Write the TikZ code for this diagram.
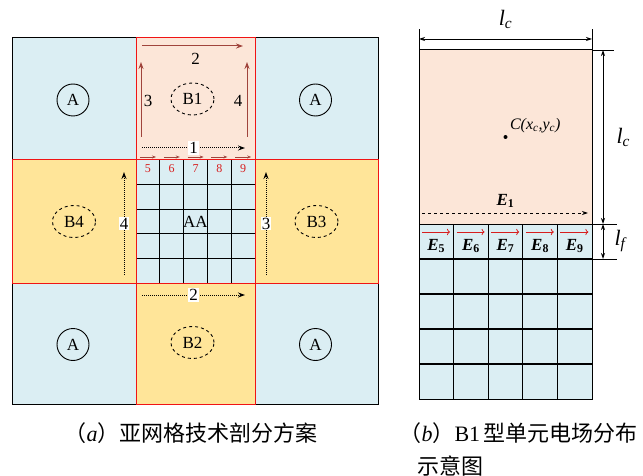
\documentclass[tikz,border=0pt]{standalone}
\usepackage{fontspec}
\setmainfont{Liberation Serif}
\newfontfamily\cjkfont{Noto Sans CJK SC}
\usetikzlibrary{positioning,arrows.meta,calc,shapes.geometric}
\definecolor{CellBlue}{RGB}{219,238,243}
\definecolor{CellPink}{RGB}{252,230,216}
\definecolor{CellYellow}{RGB}{255,229,153}
\definecolor{EdgeRed}{RGB}{240,20,20}
\definecolor{ArrowBrown}{RGB}{160,68,60}
\definecolor{FieldRed}{RGB}{215,30,30}
\newcommand{\tagsize}{\fontsize{17}{19}\selectfont}
\tikzset{
  acell/.style={draw=black,fill=CellBlue,line width=1pt,inner sep=0pt,outer sep=0pt},
  pinkcell/.style={draw=EdgeRed,fill=CellPink,line width=1pt,inner sep=0pt,outer sep=0pt},
  yellowcell/.style={draw=EdgeRed,fill=CellYellow,line width=1pt,inner sep=0pt,outer sep=0pt},
  redline/.style={draw=EdgeRed,line width=1pt},
  meshline/.style={draw=black,line width=1.1pt},
  ring/.style={circle,draw=black,line width=0.9pt,minimum size=32pt,inner sep=0pt,font=\tagsize},
  zone/.style={ellipse,draw=black,dashed,line width=0.9pt,minimum width=43pt,
    minimum height=32pt,inner sep=0pt,font=\tagsize},
  sideflow/.style={-{Stealth[length=7pt,width=5pt]},line width=1pt,draw=ArrowBrown},
  tinyflow/.style={-{Stealth[length=4pt,width=3pt]},line width=0.8pt,draw=ArrowBrown},
  dotflow/.style={-{Stealth[length=7pt,width=5pt]},densely dotted,line width=1pt},
  numtag/.style={font=\tagsize,fill=white,inner sep=1pt},
  plaintag/.style={font=\tagsize,inner sep=0pt},
  redtag/.style={font=\fontsize{12}{14}\selectfont,text=FieldRed},
  dimline/.style={line width=0.9pt},
  dimflow/.style={{Stealth[length=6pt,width=4pt]}-{Stealth[length=6pt,width=4pt]},line width=0.9pt},
  fieldflow/.style={-{To[length=3pt]},draw=FieldRed,line width=0.8pt},
  efield/.style={font=\fontsize{17}{19}\selectfont\bfseries\itshape},
  lsize/.style={font=\fontsize{22}{24}\selectfont}
}

\begin{document}
\begin{tikzpicture}[x=1pt,y=-1pt,node distance=0pt]
  \useasboundingbox (0,0) rectangle (643,476);
  % sub-grid partition (a)
  \node[acell,minimum width=124pt,minimum height=122pt] (a1) at (74,99) {};
  \node[pinkcell,right=of a1,minimum width=119pt,minimum height=122pt] (b1) {};
  \node[acell,right=of b1,minimum width=123pt,minimum height=122pt] (a2) {};
  \node[yellowcell,below=of a1,minimum width=124pt,minimum height=123pt] (b4) {};
  \node[acell,right=of b4,minimum width=119pt,minimum height=123pt] (aa) {};
  \node[yellowcell,right=of aa,minimum width=123pt,minimum height=123pt] (b3) {};
  \node[acell,below=of b4,minimum width=124pt,minimum height=121pt] (a3) {};
  \node[yellowcell,right=of a3,minimum width=119pt,minimum height=121pt] (b2) {};
  \node[acell,right=of b2,minimum width=123pt,minimum height=121pt] (a4) {};
  \foreach \k in {1,...,4} {
    \draw[meshline] ($(aa.north west)!\k/5!(aa.north east)$) -- ($(aa.south west)!\k/5!(aa.south east)$);
    \draw[meshline] ($(aa.north west)!\k/5!(aa.south west)$) -- ($(aa.north east)!\k/5!(aa.south east)$);
  }
  \foreach \c in {b1,b2,b3,b4,aa}
    \draw[redline] (\c.south west) rectangle (\c.north east);
  \node[plaintag] at (aa.center) {AA};
  \foreach \n [count=\k from 0] in {5,...,9} {
    \node[redtag] at ($(aa.north west)!{(\k+0.5)/5}!(aa.north east)+(0,9)$) {\n};
    \draw[tinyflow] ($(aa.north west)+(\k*23.8+4,-3)$) -- ++(16,0);
  }
  \foreach \c in {a1,a2,a3,a4}
    \node[ring] at ([shift={(-1,1)}]\c.center) {A};
  % B1
  \node[zone] (z1) at ([shift={(-3,0)}]b1.center) {B1};
  \draw[sideflow] ([shift={(6,8)}]b1.north west) -- ([shift={(-12,8)}]b1.north east);
  \node[plaintag] at ([shift={(0,21)}]b1.north) {2};
  \draw[sideflow] ([shift={(5,-23)}]b1.south west) -- ([shift={(5,24)}]b1.north west);
  \draw[sideflow] ([shift={(-8,-23)}]b1.south east) -- ([shift={(-8,24)}]b1.north east);
  \node[plaintag] at ([shift={(12,63)}]b1.north west) {3};
  \node[plaintag] at ([shift={(-17,63)}]b1.north east) {4};
  \draw[dotflow] ([shift={(6,-12)}]b1.south west) -- ([shift={(-10,-12)}]b1.south east)
    node[numtag,midway] {1};
  % B2, B3, B4
  \node[zone] (z2) at ([shift={(-3,-1)}]b2.center) {B2};
  \draw[dotflow] ([shift={(6,12)}]b2.north west) -- ([shift={(-10,12)}]b2.north east)
    node[numtag,midway] {2};
  \node[zone] (z3) at (b3.center) {B3};
  \draw[dotflow] ([shift={(11,-8)}]b3.south west) -- ([shift={(11,12)}]b3.north west)
    node[numtag,midway] {3};
  \node[zone] (z4) at (b4.center) {B4};
  \draw[dotflow] ([shift={(-12,-8)}]b4.south east) -- ([shift={(-12,12)}]b4.north east)
    node[numtag,midway] {4};

  % B1 cell field (b)
  \node[draw=black,fill=CellPink,line width=1pt,minimum width=173pt,minimum height=174pt,
    inner sep=0pt,outer sep=0pt] (cellb) at (505.5,137) {};
  \node[acell,below=of cellb,minimum width=173pt,minimum height=175pt] (mesh) {};
  \foreach \k in {1,...,4} {
    \draw[meshline] ($(mesh.north west)!\k/5!(mesh.north east)$) -- ($(mesh.south west)!\k/5!(mesh.south east)$);
    \draw[meshline] ($(mesh.north west)!\k/5!(mesh.south west)$) -- ($(mesh.north east)!\k/5!(mesh.south east)$);
  }
  \foreach \n [count=\k from 0] in {5,...,9} {
    \draw[fieldflow] ($(mesh.north west)+(\k*34.6+3,8)$) -- ++(28,0);
    \node[efield] at ($(mesh.north west)+(\k*34.6+17.3,22)$) {E\textsubscript{\upshape\n}};
  }
  \fill (cellb.center) circle (2);
  \node[anchor=south west,font=\fontsize{16}{18}\selectfont\itshape] at ([shift={(1,-1)}]cellb.center)
    {C(x\textsubscript{c},y\textsubscript{c})};
  \draw[-{Stealth[length=6pt,width=4pt]},dashed,line width=0.9pt]
    ([shift={(3,-11)}]cellb.south west) -- ([shift={(-4,-11)}]cellb.south east);
  \node[efield] at ([shift={(0,-23)}]cellb.south) {E\textsubscript{\upshape 1}};
  % dimensions
  \coordinate (topl) at ([shift={(0,-11)}]cellb.north west);
  \coordinate (topr) at ([shift={(0,-11)}]cellb.north east);
  \draw[dimline] (cellb.north west) -- ++(0,-21);
  \draw[dimline] (cellb.north east) -- ++(0,-21);
  \draw[dimflow] (topl) -- (topr);
  \node[lsize] at ([shift={(0,-31)}]cellb.north) {\textit{l}\textsubscript{\textit{c}}};
  \coordinate (rgt1) at ([shift={(11,0)}]cellb.north east);
  \coordinate (rgt2) at ([shift={(11,0)}]cellb.south east);
  \coordinate (rgt3) at ([shift={(11,35)}]mesh.north east);
  \draw[dimline] (cellb.north east) -- ++(22,0);
  \draw[dimline] (cellb.south east) -- ++(25,0);
  \draw[dimline] ([shift={(0,35)}]mesh.north east) -- ++(25,0);
  \draw[dimflow] (rgt1) -- (rgt2);
  \draw[dimflow] (rgt2) -- (rgt3);
  \node[lsize,anchor=west] at ([shift={(10,0)}]rgt1 |- cellb.east) {\textit{l}\textsubscript{\textit{c}}};
  \node[lsize,anchor=west] at ([shift={(8,17)}]rgt2) {\textit{l}\textsubscript{\textit{f}}};

  % captions
  \node[font=\fontsize{22}{33}\selectfont] (capa) at (191,433)
    {{\cjkfont （}\textit{a}{\cjkfont ）亚网格技术剖分方案}};
  \node[font=\fontsize{22}{33}\selectfont,anchor=west,align=left] (capb) at (396,449)
    {{\cjkfont （}\textit{b}{\cjkfont ）}B1\,{\cjkfont 型单元电场分布}\\
     \hspace*{0.8em}{\cjkfont 示意图}};
\end{tikzpicture}
\end{document}
